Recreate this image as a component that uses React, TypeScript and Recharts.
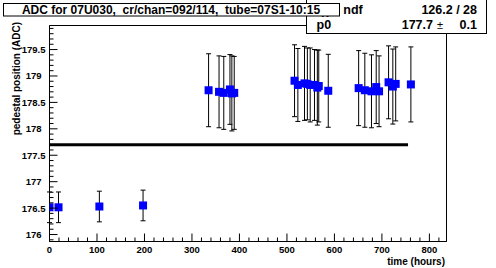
import { ScatterChart, Scatter, ErrorBar, XAxis, YAxis, ReferenceLine, ReferenceArea } from 'recharts'

// pedestal runs
const hours = [0, 19, 105, 197, 335, 357, 367, 380, 384, 389, 516, 523, 537, 543, 549, 558, 564, 567, 587, 651, 664, 678, 688, 694, 714, 723, 729, 761]
const pedestal = [176.515, 176.515, 176.53, 176.55, 178.73, 178.70, 178.68, 178.745, 178.67, 178.68, 178.91, 178.83, 178.86, 178.85, 178.83, 178.83, 178.78, 178.81, 178.72, 178.77, 178.73, 178.71, 178.79, 178.71, 178.88, 178.80, 178.85, 178.84]
const pedestalErr = [0.29, 0.29, 0.29, 0.29, 0.69, 0.68, 0.69, 0.66, 0.71, 0.69, 0.68, 0.69, 0.70, 0.68, 0.70, 0.67, 0.71, 0.68, 0.69, 0.71, 0.70, 0.69, 0.69, 0.67, 0.69, 0.71, 0.70, 0.71]

// pol0 fit
const fitP0 = 177.7
const fitRange = [0, 755]

const xDomain = [0, 836]
const yDomain = [175.868, 179.955]
const xLabels = [0, 100, 200, 300, 400, 500, 600, 700, 800]
const yLabels = [176, 176.5, 177, 177.5, 178, 178.5, 179, 179.5]

const xTicks: number[] = []
for (let h = 0; h <= 820; h += 20) xTicks.push(h)
const yTicks: number[] = []
for (let i = 1759; i <= 1799; i++) yTicks.push(i / 10)

const points = hours.map((h, i) => ({ x: h, y: pedestal[i], err: pedestalErr[i] }))

const FONT = '"Liberation Sans", Arial, Helvetica, sans-serif'

function XTick({ x, y, payload }: any) {
  const v = payload.value
  const major = xLabels.includes(v)
  return (
    <g>
      <line x1={x} x2={x} y1={y} y2={y - (major ? 8 : 4)} stroke="#000" />
      {major && (
        <text x={x} y={y + 11} textAnchor="middle" fontFamily={FONT} fontWeight="bold" fontSize={9.5} fill="#000">
          {v}
        </text>
      )}
    </g>
  )
}

function YTick({ x, y, payload }: any) {
  const v = payload.value
  const major = yLabels.some((l) => Math.abs(l - v) < 1e-6)
  const whole = Math.abs(v - Math.round(v)) < 1e-6
  return (
    <g>
      <line x1={x} x2={x + (major ? 8 : 4)} y1={y} y2={y} stroke="#000" />
      {major && (
        <text x={x - (whole ? 8 : 4)} y={y + 3.5} textAnchor="end" fontFamily={FONT} fontWeight="bold" fontSize={9.5} fill="#000">
          {v}
        </text>
      )}
    </g>
  )
}

function Marker({ cx, cy }: any) {
  return <rect x={cx - 4} y={cy - 4} width={8} height={8} fill="#0000ff" />
}

export default function App() {
  return (
    <div style={{ position: 'absolute', left: 0, top: 0, width: 496, height: 268, background: '#fff' }}>
      <ScatterChart width={496} height={268} margin={{ top: 25.5, right: 49.5, bottom: 6.5, left: 9.5 }}>
        <XAxis
          type="number"
          dataKey="x"
          domain={xDomain}
          allowDataOverflow
          ticks={xTicks}
          interval={0}
          height={20}
          tickSize={0}
          tickMargin={0}
          tick={<XTick />}
          axisLine={{ stroke: '#000' }}
        />
        <YAxis
          type="number"
          dataKey="y"
          domain={yDomain}
          allowDataOverflow
          ticks={yTicks}
          interval={0}
          width={40}
          tickSize={0}
          tickMargin={0}
          tick={<YTick />}
          axisLine={{ stroke: '#000' }}
        />
        <ReferenceArea x1={xDomain[0]} x2={xDomain[1]} y1={yDomain[0]} y2={yDomain[1]} fill="none" fillOpacity={0} stroke="#000" strokeOpacity={1} />
        <ReferenceLine
          segment={[{ x: fitRange[0], y: fitP0 }, { x: fitRange[1], y: fitP0 }]}
          stroke="#000"
          strokeWidth={3}
        />
        <Scatter data={points} dataKey="y" shape={<Marker />} isAnimationActive={false}>
          <ErrorBar dataKey="err" direction="y" width={2.5} stroke="#000" strokeWidth={1} />
        </Scatter>
      </ScatterChart>

      <svg width={496} height={268} style={{ position: 'absolute', left: 0, top: 0, pointerEvents: 'none' }}>
        <g fontFamily={FONT} fontWeight="bold" fill="#000">
          {/* stats box */}
          <rect x={306.5} y={-1} width={180} height={34.5} fill="#fff" stroke="#000" />
          <text x={362.7} y={14} textAnchor="end" fontSize={12.5}>χ² / ndf</text>
          <text x={477} y={14} textAnchor="end" fontSize={12.5}>126.2 / 28</text>
          <text x={316.5} y={28.5} fontSize={12.5}>p0</text>
          <text x={433} y={28.5} textAnchor="end" fontSize={12.5}>177.7</text>
          <text x={437} y={28.5} fontSize={11} fontWeight="normal">±</text>
          <text x={477} y={28.5} textAnchor="end" fontSize={12.5}>0.1</text>

          {/* title box */}
          <rect x={3.5} y={3.5} width={336} height={12.5} fill="#fff" stroke="#000" />
          <text x={171} y={14} textAnchor="middle" fontSize={12} style={{ whiteSpace: 'pre' }}>
            ADC for 07U030,  cr/chan=092/114,  tube=07S1-10:15
          </text>

          {/* axis titles */}
          <text x={445} y={264.5} textAnchor="end" fontSize={10}>time (hours)</text>
          <text x={19.5} y={22} textAnchor="end" fontSize={10} transform="rotate(-90 19.5 22)">
            pedestal position (ADC)
          </text>
        </g>
      </svg>
    </div>
  )
}
